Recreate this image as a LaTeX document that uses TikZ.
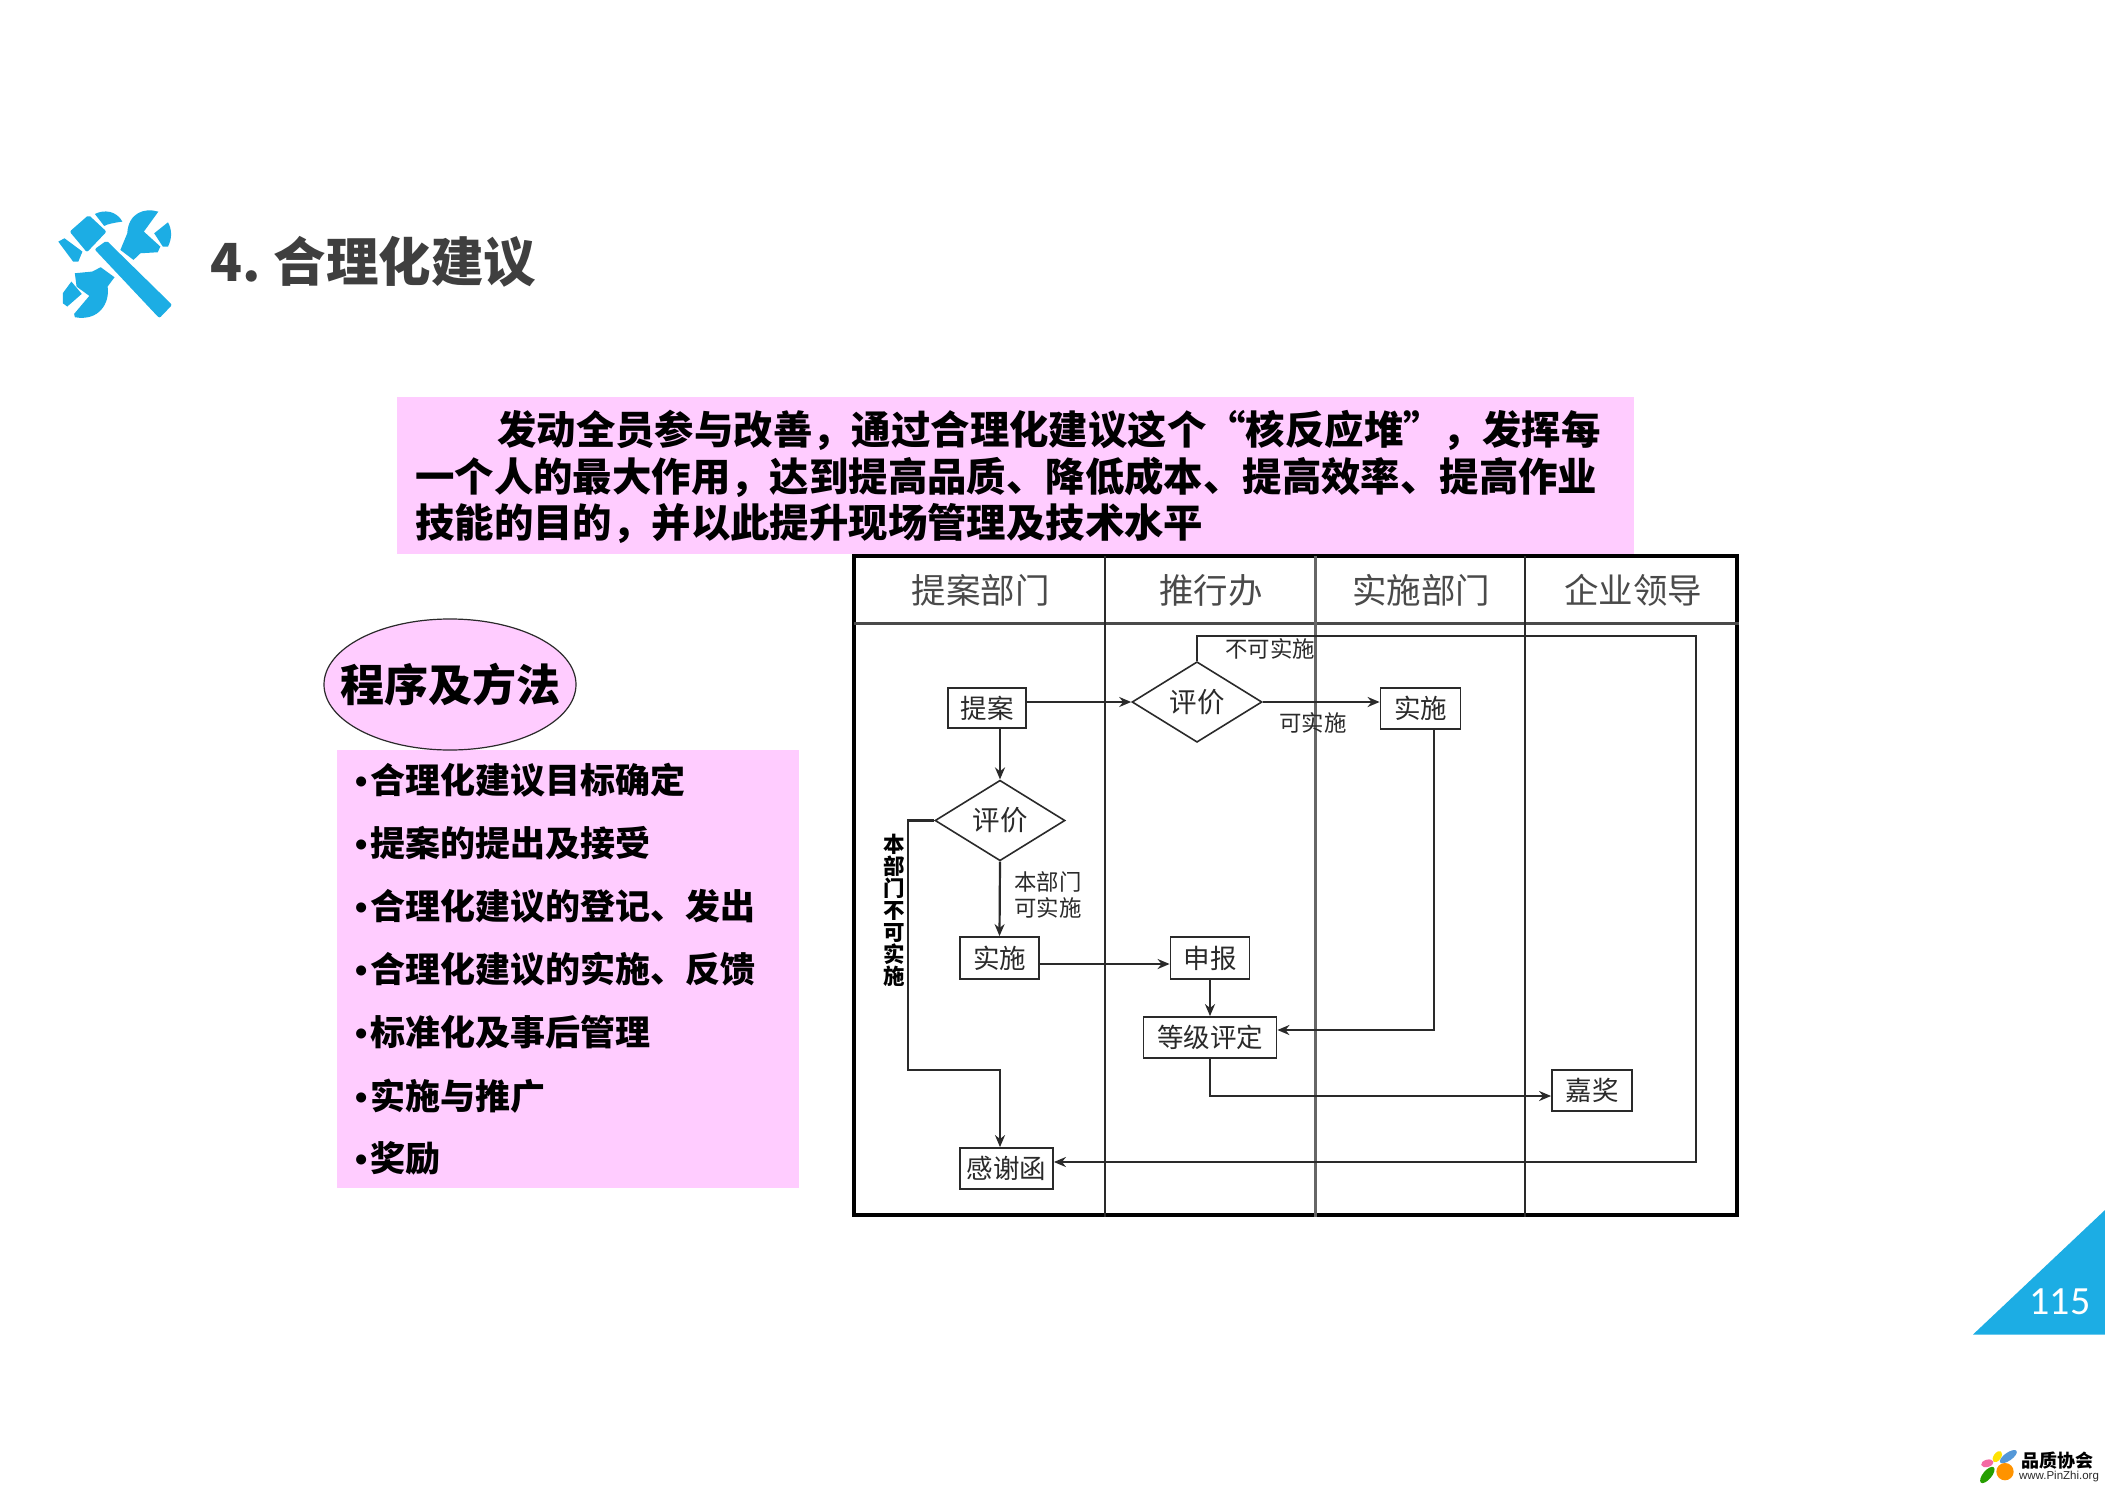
\documentclass[tikz,border=0pt]{standalone}
\usepackage{fontspec}
\setmainfont{Noto Sans CJK SC}
\newfontfamily\carlito{Carlito}
\newfontfamily\libsans{Liberation Sans}
\usetikzlibrary{shapes.geometric,arrows.meta}
\definecolor{pinkbg}{HTML}{FFCCFF}
\definecolor{bluec}{HTML}{1CADE4}
\definecolor{ink}{HTML}{2A2A2A}
\newcommand{\fsz}[1]{\fontsize{#1}{#1}\selectfont}
\newcommand{\bul}{\makebox[15pt][l]{\libsans\bfseries •}}
\tikzset{
  lineA/.style={line width=2.2pt,draw=ink,-{Stealth[length=12pt,width=10pt]}},
  stepbox/.style={draw=ink,line width=1.8pt,fill=white,inner sep=0pt,text=ink,font=\fsz{26.5}},
  decide/.style={diamond,draw=ink,line width=1.6pt,fill=white,inner sep=0pt,text=ink,font=\fsz{27.5},minimum width=130pt,minimum height=80pt},
  hdr/.style={text=ink!85,font=\fsz{34.5},inner sep=0pt},
  lbl/.style={text=ink,font=\fsz{22.4},inner sep=0pt},
  item/.style={anchor=west,inner sep=0pt,text=black,font=\fsz{35}\bfseries},
  para/.style={anchor=west,inner sep=0pt,text=black,font=\fsz{39.4}\bfseries},
  ico/.style={fill=bluec,draw=none}
}
\begin{document}
\begin{tikzpicture}[x=1pt,y=-1pt]
\useasboundingbox (0,0) rectangle (2105,1488);
\fill[white] (0,0) rectangle (2105,1488);

% icon
\begin{scope}[shift={(30,190)},x=0.345pt,y=-0.333pt]
\fill[ico,rounded corners=2pt] (187,178) -- (222,152) -- (412,345) -- (375,385) -- cycle;
\fill[ico,rounded corners=2pt] (115,125) -- (170,75) -- (222,125) -- (165,187) -- cycle;
\fill[ico] (188,72) .. controls (215,58) and (250,62) .. (268,95) .. controls (245,98) and (225,102) .. (215,108) -- cycle;
\fill[ico] (82,155) -- (100,145) -- (152,185) -- (140,215) -- (125,215) -- cycle;
\fill[ico] (372,65) .. controls (330,52) and (285,70) .. (282,130) -- (262,180) -- (300,210) -- (320,190) -- (370,187) -- (378,170) -- (330,125) -- cycle;
\fill[ico] (360,130) -- (400,97) .. controls (412,120) and (412,145) .. (400,170) -- (385,170) -- cycle;
\fill[ico] (205,232) -- (245,262) -- (225,290) .. controls (232,340) and (200,395) .. (130,382) -- (128,372) -- (172,318) -- (135,290) -- (130,250) -- (180,245) -- cycle;
\fill[ico] (95,310) -- (120,275) -- (150,312) -- (108,350) -- (95,340) -- cycle;
\end{scope}

% title
\node[anchor=west,inner sep=0pt,text=ink!90,font=\fsz{52.5}\bfseries] (title) at (210.5,262) {4.\hspace{-3.5pt} 合理化建议};

% top text box
\node[fill=pinkbg,inner sep=0pt,minimum width=1237pt,minimum height=157pt] (topbox) at (1015.5,475) {};
\node[para] (p1) at (497,430) {发动全员参与改善，通过合理化建议这个“核反应堆”，发挥每};
\node[para] (p2) at (415,477) {一个人的最大作用，达到提高品质、降低成本、提高效率、提高作业};
\node[para] (p3) at (415,524) {技能的目的，并以此提升现场管理及技术水平};

% left list
\node[fill=pinkbg,inner sep=0pt,minimum width=462pt,minimum height=438pt] (listbox) at (568,969) {};
\node[ellipse,draw=ink,line width=1.2pt,fill=pinkbg,inner sep=0pt,minimum width=252pt,minimum height=131pt] (oval) at (450,684.5) {};
\node[inner sep=0pt,font=\fsz{44}\bfseries,text=black] (ovaltext) at (oval.center) {程序及方法};
\node[item] (i1) at (355,780) {\bul 合理化建议目标确定};
\node[item] (i2) at (355,843) {\bul 提案的提出及接受};
\node[item] (i3) at (355,906) {\bul 合理化建议的登记、发出};
\node[item] (i4) at (355,969) {\bul 合理化建议的实施、反馈};
\node[item] (i5) at (355,1032) {\bul 标准化及事后管理};
\node[item] (i6) at (355,1096) {\bul 实施与推广};
\node[item] (i7) at (355,1158) {\bul 奖励};

% table
\node[draw=black,line width=4pt,fill=white,inner sep=0pt,minimum width=883pt,minimum height=659pt] (table) at (1295.5,885.5) {};
\coordinate (h1) at (854,623);
\draw[line width=3pt,draw=ink!85] (h1) -- (h1 -| table.east);
\coordinate (v1) at (1105,556);
\coordinate (v2) at (1315.5,556);
\coordinate (v3) at (1525,556);
\draw[line width=1.6pt,draw=ink] (v1) -- (v1 |- table.south);
\draw[line width=3.2pt,draw=black!60] (v2) -- (v2 |- table.south);
\draw[line width=1.6pt,draw=ink] (v3) -- (v3 |- table.south);

\node[hdr] (h-a) at (980.5,590) {提案部门};
\node[hdr] (h-b) at (1211,590) {推行办};
\node[hdr] (h-c) at (1421,590) {实施部门};
\node[hdr] (h-d) at (1633,590) {企业领导};

% steps
\node[stepbox,minimum width=78pt,minimum height=40pt] (tian) at (987,708) {提案};
\node[decide] (d2) at (1197,702) {评价};
\node[stepbox,minimum width=80pt,minimum height=41pt] (shi1) at (1420.5,708.5) {实施};
\node[decide] (d1) at (1000,820.5) {评价};
\node[stepbox,minimum width=79pt,minimum height=42pt] (shi2) at (999.5,958) {实施};
\node[stepbox,minimum width=79pt,minimum height=42pt] (sb) at (1210,958) {申报};
\node[stepbox,minimum width=133pt,minimum height=41pt] (dj) at (1210,1037.5) {等级评定};
\node[stepbox,minimum width=80pt,minimum height=41pt] (jj) at (1592,1090.5) {嘉奖};
\node[stepbox,minimum width=93pt,minimum height=41pt] (gx) at (1006.5,1168.5) {感谢函};

% connectors
\draw[lineA] (tian.east |- d2.west) -- (d2.west);
\draw[lineA] (d2.east) -- (d2.east -| shi1.west);
\draw[lineA] (d1.north |- tian.south) -- (d1.north);
\draw[lineA] (d1.south) -- (shi2.north);
\coordinate (c1) at (908,820.5);
\coordinate (c2) at (908,1070);
\draw[lineA] (d1.west) -- (c1) -- (c2) -- (c2 -| d1.south) -- (d1.south |- gx.north);
\coordinate (c3) at (1696,636);
\coordinate (c4) at (1696,1162);
\draw[lineA] (d2.north) -- (d2.north |- c3) -- (c3) -- (c4) -- (c4 -| gx.east);
\coordinate (c5) at (1039,964);
\draw[lineA] (c5) -- (c5 -| sb.west);
\draw[lineA] (sb.south) -- (dj.north);
\coordinate (c6) at (1434,729);
\coordinate (c7) at (1434,1030);
\draw[lineA] (c6) -- (c7) -- (c7 -| dj.east);
\coordinate (c8) at (1210,1096);
\draw[lineA] (dj.south) -- (c8) -- (c8 -| jj.west);

% connector labels
\node[lbl] (l1) at (1270,649) {不可实施};
\node[lbl] (l2) at (1313,723) {可实施};
\node[lbl,align=center] (l3) at (1048,895) {本部门\\[4pt]可实施};
\node[inner sep=0pt,align=center,font=\fontsize{21.5}{22}\selectfont\bfseries,text=black] (l4) at (894,910) {本\\部\\门\\不\\可\\实\\施};

% page number
\coordinate (t1) at (1973,1334.5);
\coordinate (t2) at (2105,1210);
\coordinate (t3) at (2105,1334.5);
\fill[bluec] (t1) -- (t2) -- (t3) -- cycle;
\node[inner sep=0pt,text=white,font=\carlito\fsz{40}] (pg) at (2060,1302) {115};

% logo
\begin{scope}[shift={(1900,1180)},x=0.3333pt,y=-0.3333pt]
\fill[yellow!85!orange,rotate around={55:(292,830)}] (292,830) ellipse[x radius=19,y radius=11];
\fill[cyan!60!blue!70,rotate around={35:(325,830)}] (325,830) ellipse[x radius=30,y radius=12];
\fill[magenta!45!pink,rotate around={15:(262,850)}] (262,850) ellipse[x radius=19,y radius=11];
\fill[green!55!black!85!yellow,rotate around={50:(262,885)}] (262,885) ellipse[x radius=30,y radius=13];
\fill[orange!85!yellow] (315,875) circle[radius=26];
\end{scope}
\node[inner sep=0pt,font=\fsz{18}\bfseries,text=black] (lg1) at (2057.5,1461) {品质协会};
\node[inner sep=0pt,font=\libsans\fsz{11.5},text=ink] (lg2) at (2059,1477) {www.PinZhi.org};
\end{tikzpicture}
\end{document}
